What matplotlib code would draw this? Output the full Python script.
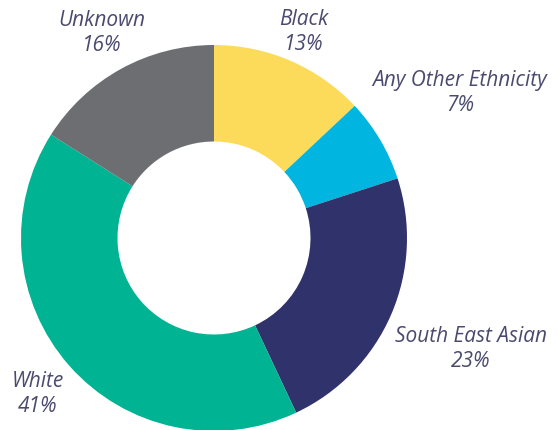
import numpy as np
import matplotlib
matplotlib.use("Agg")
import matplotlib.pyplot as plt

# Datos
categorias = ["Black", "Any Other Ethnicity", "South East Asian", "White", "Unknown"]
porcentajes = [13, 7, 23, 41, 16]
colores = ["#FCDB5A", "#00B5DF", "#30336B", "#00B393", "#6D6E71"]
dist_etiqueta = [1.165, 1.48, 1.45, 1.22, 1.21]

fig = plt.figure(figsize=(5.58, 4.30), dpi=100)
ax = fig.add_axes([0, 0, 1, 1])

wedges, _ = ax.pie(porcentajes, colors=colores, startangle=90, counterclock=False,
                   radius=1, wedgeprops=dict(width=0.5, linewidth=0))

# etiquetas en el ángulo medio de cada sector
for w, cat, p, d in zip(wedges, categorias, porcentajes, dist_etiqueta):
    ang = np.deg2rad((w.theta1 + w.theta2) / 2)
    ax.text(d * np.cos(ang), d * np.sin(ang), f"{cat}\n{p}%",
            ha="center", va="center", fontsize=15, style="italic",
            family="Open Sans", color="#4A4A6E", linespacing=1.25)

ax.set_xlim(-214 / 193, (558 - 214) / 193)
ax.set_ylim((238 - 430) / 193, 238 / 193)
ax.set_aspect("equal")
ax.axis("off")

fig.savefig("out.png", dpi=100)
